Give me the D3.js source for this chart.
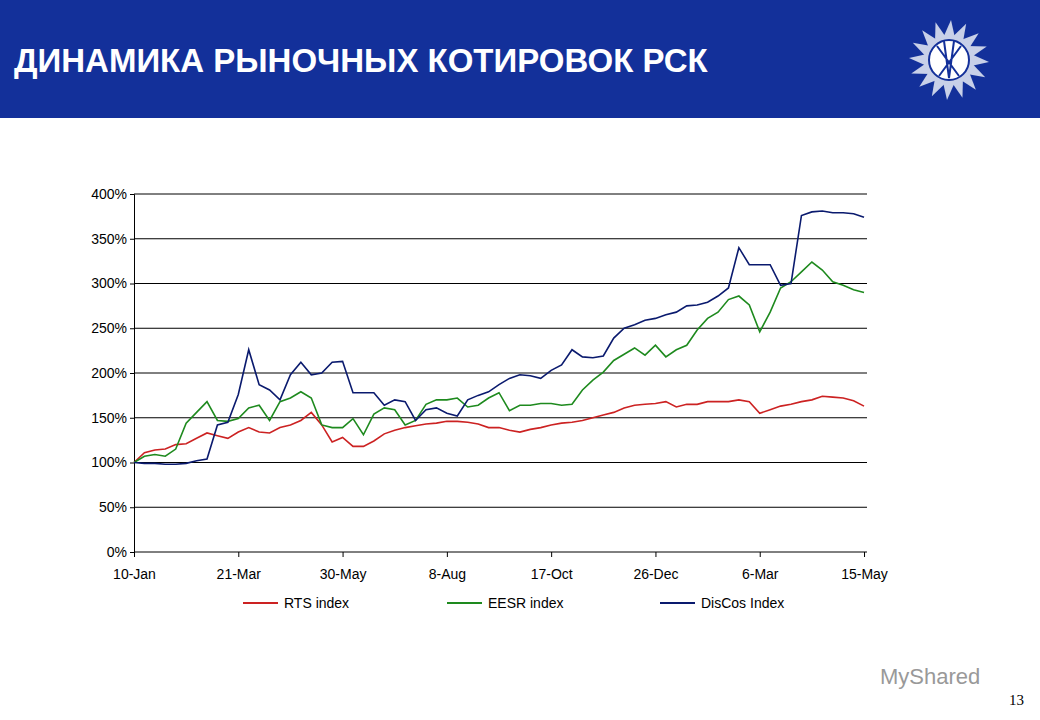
<!DOCTYPE html>
<html>
<head>
<meta charset="utf-8">
<script src="https://cdn.jsdelivr.net/npm/d3@7"></script>
<style>
  body { margin: 0; background: #fff; }
  svg text { font-family: "Liberation Sans", Arial, sans-serif; }
</style>
</head>
<body>
<div id="chart"></div>
<script>
// width and height of the page
var w = 1040;
var h = 720;

// x ticks (day offsets from 10-Jan) and their labels
var tickDays = [0, 70, 140, 210, 280, 350, 420, 490];
var tickLabels = ["10-Jan", "21-Mar", "30-May", "8-Aug", "17-Oct", "26-Dec", "6-Mar", "15-May"];
var yTicks = [0, 50, 100, 150, 200, 250, 300, 350, 400];

// weekly values, percent of 10-Jan level
var step = 7;
var rts = [100,111,114,115,120,121,127,133,130,127,134,139,134,133,139,142,147,156,142,123,
  128,118,118,124,132,136,139,141,143,144,146,146,145,143,139,139,136,134,137,139,
  142,144,145,147,150,153,156,161,164,165,166,168,162,165,165,168,168,168,170,168,
  155,159,163,165,168,170,174,173,172,169,163];
var eesr = [100,107,109,107,115,144,156,168,147,146,149,161,164,147,168,172,179,172,142,139,
  139,149,131,154,161,159,142,147,165,170,170,172,162,164,172,178,158,164,164,166,
  166,164,165,181,192,201,214,221,228,220,231,218,226,231,248,261,268,282,286,276,
  246,268,295,302,313,324,315,302,298,293,290];
var discos = [100,99,99,98,98,99,102,104,142,145,176,226,187,181,170,198,212,198,200,212,
  213,178,178,178,164,170,168,147,159,161,155,152,170,175,179,187,194,198,197,194,
  203,209,226,218,217,219,239,250,254,259,261,265,268,275,276,279,286,295,340,321,
  321,321,298,300,376,380,381,379,379,378,374];

var seriesNames = ["RTS index", "EESR index", "DisCos Index"];
var seriesColors = ["#cc2222", "#1e8a1e", "#0a1a6e"];
var seriesData = [rts, eesr, discos];

var svg = d3.select("#chart").append("svg")
  .attr("width", w)
  .attr("height", h);

// header band
svg.append("rect")
  .attr("x", 0).attr("y", 0)
  .attr("width", w).attr("height", 118)
  .attr("fill", "#13309a");
svg.append("text")
  .attr("x", 14).attr("y", 72)
  .attr("fill", "white")
  .attr("font-size", "33px")
  .attr("font-weight", "bold")
  .text("ДИНАМИКА РЫНОЧНЫХ КОТИРОВОК РСК");

// logo: sun with rays and a circle
var logo = svg.append("g").attr("transform", "translate(949,60)");
var rays = d3.range(16);
logo.selectAll(".ray")
  .data(rays)
  .enter()
  .append("path")
  .attr("d", "M-6,-22 L2,-40 L6,-22 Z")
  .attr("transform", function(d) { return "rotate(" + (d * 22.5) + ")"; })
  .attr("fill", "#c8d0e8");
logo.append("circle").attr("r", 25).attr("fill", "#c8d0e8");
logo.append("circle").attr("r", 20).attr("fill", "white").attr("stroke", "#13309a").attr("stroke-width", 2);
logo.append("path")
  .attr("d", "M-12,-14 L10,16 M12,-14 L-10,16 M-5,-19 L0,18 M5,-19 L0,18")
  .attr("stroke", "#13309a").attr("stroke-width", 2).attr("fill", "none");

// scales
var xScale = d3.scaleLinear().domain([0, 492]).range([134, 867]);
var yScale = d3.scaleLinear().domain([0, 400]).range([552, 194]);

// gridlines
svg.selectAll(".grid")
  .data(yTicks.slice(1))
  .enter()
  .append("line")
  .attr("x1", 134).attr("x2", 867)
  .attr("y1", function(d) { return yScale(d); })
  .attr("y2", function(d) { return yScale(d); })
  .attr("stroke", "black")
  .attr("stroke-width", 1);

// y axis
var yAxis = d3.axisLeft(yScale)
  .tickValues(yTicks)
  .tickSize(4)
  .tickFormat(function(d) { return d + "%"; });
var gy = svg.append("g")
  .attr("transform", "translate(134,0)")
  .call(yAxis);
gy.selectAll("text").attr("font-size", "14px").attr("fill", "black");

// x axis
var xAxis = d3.axisBottom(xScale)
  .tickValues(tickDays)
  .tickSize(5)
  .tickFormat(function(d, i) { return tickLabels[i]; });
var gx = svg.append("g")
  .attr("transform", "translate(0,552)")
  .call(xAxis);
gx.select(".domain").attr("d", "M134,0H867");
gx.selectAll("text").attr("font-size", "14px").attr("fill", "black").attr("y", 14).attr("dy", "0.9em");
svg.selectAll(".domain").attr("stroke", "black");

// line generator
var line = d3.line()
  .x(function(d, i) { return xScale(i * step); })
  .y(function(d) { return yScale(d); });

seriesData.forEach(function(s, k) {
  svg.append("path")
    .datum(s)
    .attr("fill", "none")
    .attr("stroke", seriesColors[k])
    .attr("stroke-width", 1.6)
    .attr("d", line);
});

// legend
var legendX = [243, 447, 660];
seriesNames.forEach(function(name, k) {
  svg.append("line")
    .attr("x1", legendX[k]).attr("x2", legendX[k] + 35)
    .attr("y1", 603).attr("y2", 603)
    .attr("stroke", seriesColors[k])
    .attr("stroke-width", 2);
  svg.append("text")
    .attr("x", legendX[k] + 41).attr("y", 608)
    .attr("font-size", "14px")
    .text(name);
});

// watermark and page number
svg.append("text")
  .attr("x", 880).attr("y", 684)
  .attr("font-size", "22px")
  .attr("fill", "#999")
  .text("MyShared");
svg.append("text")
  .attr("x", 1024).attr("y", 705)
  .attr("text-anchor", "end")
  .attr("font-size", "15px")
  .style("font-family", "Liberation Serif, serif")
  .text("13");
</script>
</body>
</html>
